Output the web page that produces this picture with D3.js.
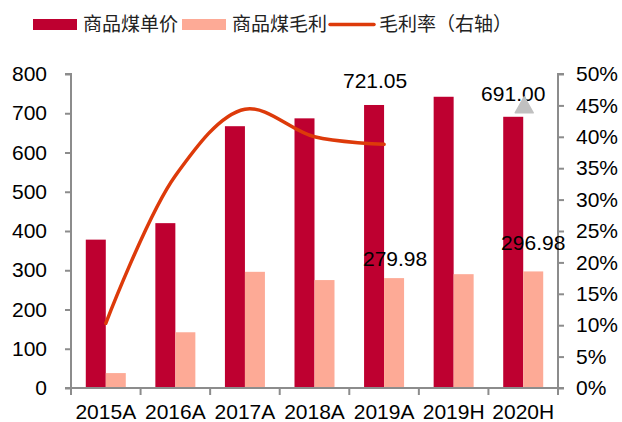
<!DOCTYPE html>
<html>
<head>
<meta charset="utf-8">
<script src="https://cdn.jsdelivr.net/npm/d3@7/dist/d3.min.js"></script>
<style>
  body { margin: 0; background: #fff; }
  text { font-family: "Liberation Sans", Arial, sans-serif; }
</style>
</head>
<body>
<svg width="622" height="422"></svg>
<script>
const categories = ["2015A", "2016A", "2017A", "2018A", "2019A", "2019H", "2020H"];
const price = [378, 420, 667, 687, 721.05, 742, 691.0];
const profit = [38, 142, 296, 275, 279.98, 290, 296.98];
const margin = [0.103, 0.338, 0.444, 0.40, 0.388]; // 2015A-2019A only
const leftTicks = [0, 100, 200, 300, 400, 500, 600, 700, 800];
const rightTicks = [0, 0.05, 0.1, 0.15, 0.2, 0.25, 0.3, 0.35, 0.4, 0.45, 0.5];
const labels = [
  { cat: "2019A", value: 721.05, text: "721.05", dx: -9, dy: -17 },
  { cat: "2020H", value: 691.0, text: "691.00", dx: -10, dy: -16 },
  { cat: "2019A", value: 279.98, text: "279.98", dx: 11, dy: -12 },
  { cat: "2020H", value: 296.98, text: "296.98", dx: 10, dy: -21 }
];

const svg = d3.select("svg");
const pLeft = 71, pRight = 558, pTop = 74, pBottom = 388;

const x = d3.scaleBand().domain(categories).range([pLeft, pRight]);
const y = d3.scaleLinear().domain([0, 800]).range([pBottom, pTop]);
const y2 = d3.scaleLinear().domain([0, 0.5]).range([pBottom, pTop]);
const barW = 20;

const axisColor = "#8c8c8c";
const fontSize = "21px";

// bars
svg.append("g").selectAll("rect")
  .data(categories)
  .enter().append("rect")
  .attr("x", d => x(d) + x.bandwidth() / 2 - barW)
  .attr("y", (d, i) => y(price[i]))
  .attr("width", barW)
  .attr("height", (d, i) => pBottom - y(price[i]))
  .attr("fill", "#be0030");

svg.append("g").selectAll("rect")
  .data(categories)
  .enter().append("rect")
  .attr("x", d => x(d) + x.bandwidth() / 2)
  .attr("y", (d, i) => y(profit[i]))
  .attr("width", barW)
  .attr("height", (d, i) => pBottom - y(profit[i]))
  .attr("fill", "#fdaa96");

// margin line
const line = d3.line()
  .x((d, i) => x(categories[i]) + x.bandwidth() / 2)
  .y(d => y2(d))
  .curve(d3.curveCatmullRom.alpha(0.5));

svg.append("path")
  .attr("d", line(margin))
  .attr("fill", "none")
  .attr("stroke", "#dd3a0a")
  .attr("stroke-width", 3.5)
  .attr("stroke-linecap", "round");

// axes
const leftAxis = d3.axisLeft(y).tickValues(leftTicks).tickSize(6).tickPadding(18);
const rightAxis = d3.axisRight(y2).tickValues(rightTicks).tickSize(6).tickPadding(12)
  .tickFormat(d3.format(".0%"));
const bottomAxis = d3.axisBottom(x).tickSize(0).tickPadding(16);

function style(g) {
  g.select(".domain").attr("stroke", axisColor).attr("stroke-width", 2);
  g.selectAll(".tick line").attr("stroke", axisColor).attr("stroke-width", 2);
  g.selectAll(".tick text").attr("fill", "#000").style("font-size", fontSize)
    .style("font-family", "'Liberation Sans', Arial, sans-serif");
}

svg.append("g").attr("transform", `translate(${pLeft},0)`).call(leftAxis).call(style)
  .call(g => g.select(".domain").attr("d", `M-6,${pTop}H0V${pBottom}H-6`));
svg.append("g").attr("transform", `translate(${pRight},0)`).call(rightAxis).call(style)
  .call(g => g.select(".domain").attr("d", `M6,${pTop}H0V${pBottom}H6`));

const bx = svg.append("g").attr("transform", `translate(0,${pBottom})`).call(bottomAxis).call(style);
bx.select(".domain").attr("d", `M${pLeft},0H${pRight}`);
bx.append("g").selectAll("line")
  .data(categories.concat([null]))
  .enter().append("line")
  .attr("x1", (d, i) => pLeft + i * x.bandwidth())
  .attr("x2", (d, i) => pLeft + i * x.bandwidth())
  .attr("y1", 0).attr("y2", 7)
  .attr("stroke", axisColor).attr("stroke-width", 2);

// data labels
svg.append("g").selectAll("text")
  .data(labels)
  .enter().append("text")
  .attr("x", d => x(d.cat) + x.bandwidth() / 2 + d.dx)
  .attr("y", d => y(d.value) + d.dy)
  .attr("text-anchor", "middle")
  .style("font-size", fontSize)
  .attr("fill", "#000")
  .text(d => d.text);

// grey triangle marker
const tcx = x("2020H") + x.bandwidth() / 2 + 1;
const ty = y(691) - 4;
svg.append("path")
  .attr("d", `M${tcx},${ty - 16}L${tcx + 9},${ty}L${tcx - 9},${ty}Z`)
  .attr("fill", "#c0c0c0")
  .attr("stroke", "#c0c0c0")
  .attr("stroke-linejoin", "round")
  .attr("stroke-width", 1.5);

// legend
const legend = svg.append("g");
const items = [
  { name: "商品煤单价", type: "rect", color: "#be0030", x: 33 },
  { name: "商品煤毛利", type: "rect", color: "#fdaa96", x: 182 },
  { name: "毛利率（右轴）", type: "line", color: "#dd3a0a", x: 329 }
];
items.forEach(it => {
  if (it.type === "rect") {
    legend.append("rect").attr("x", it.x).attr("y", 19).attr("width", 44).attr("height", 11).attr("fill", it.color);
  } else {
    legend.append("line").attr("x1", it.x + 1).attr("x2", it.x + 45).attr("y1", 24.5).attr("y2", 24.5)
      .attr("stroke", it.color).attr("stroke-width", 3.5).attr("stroke-linecap", "round");
  }
  legend.append("text").attr("x", it.x + 50).attr("y", 31)
    .style("font-size", "19px").style("font-family", "'Noto Sans CJK SC', sans-serif")
    .attr("fill", "#222").text(it.name);
});
</script>
</body>
</html>
